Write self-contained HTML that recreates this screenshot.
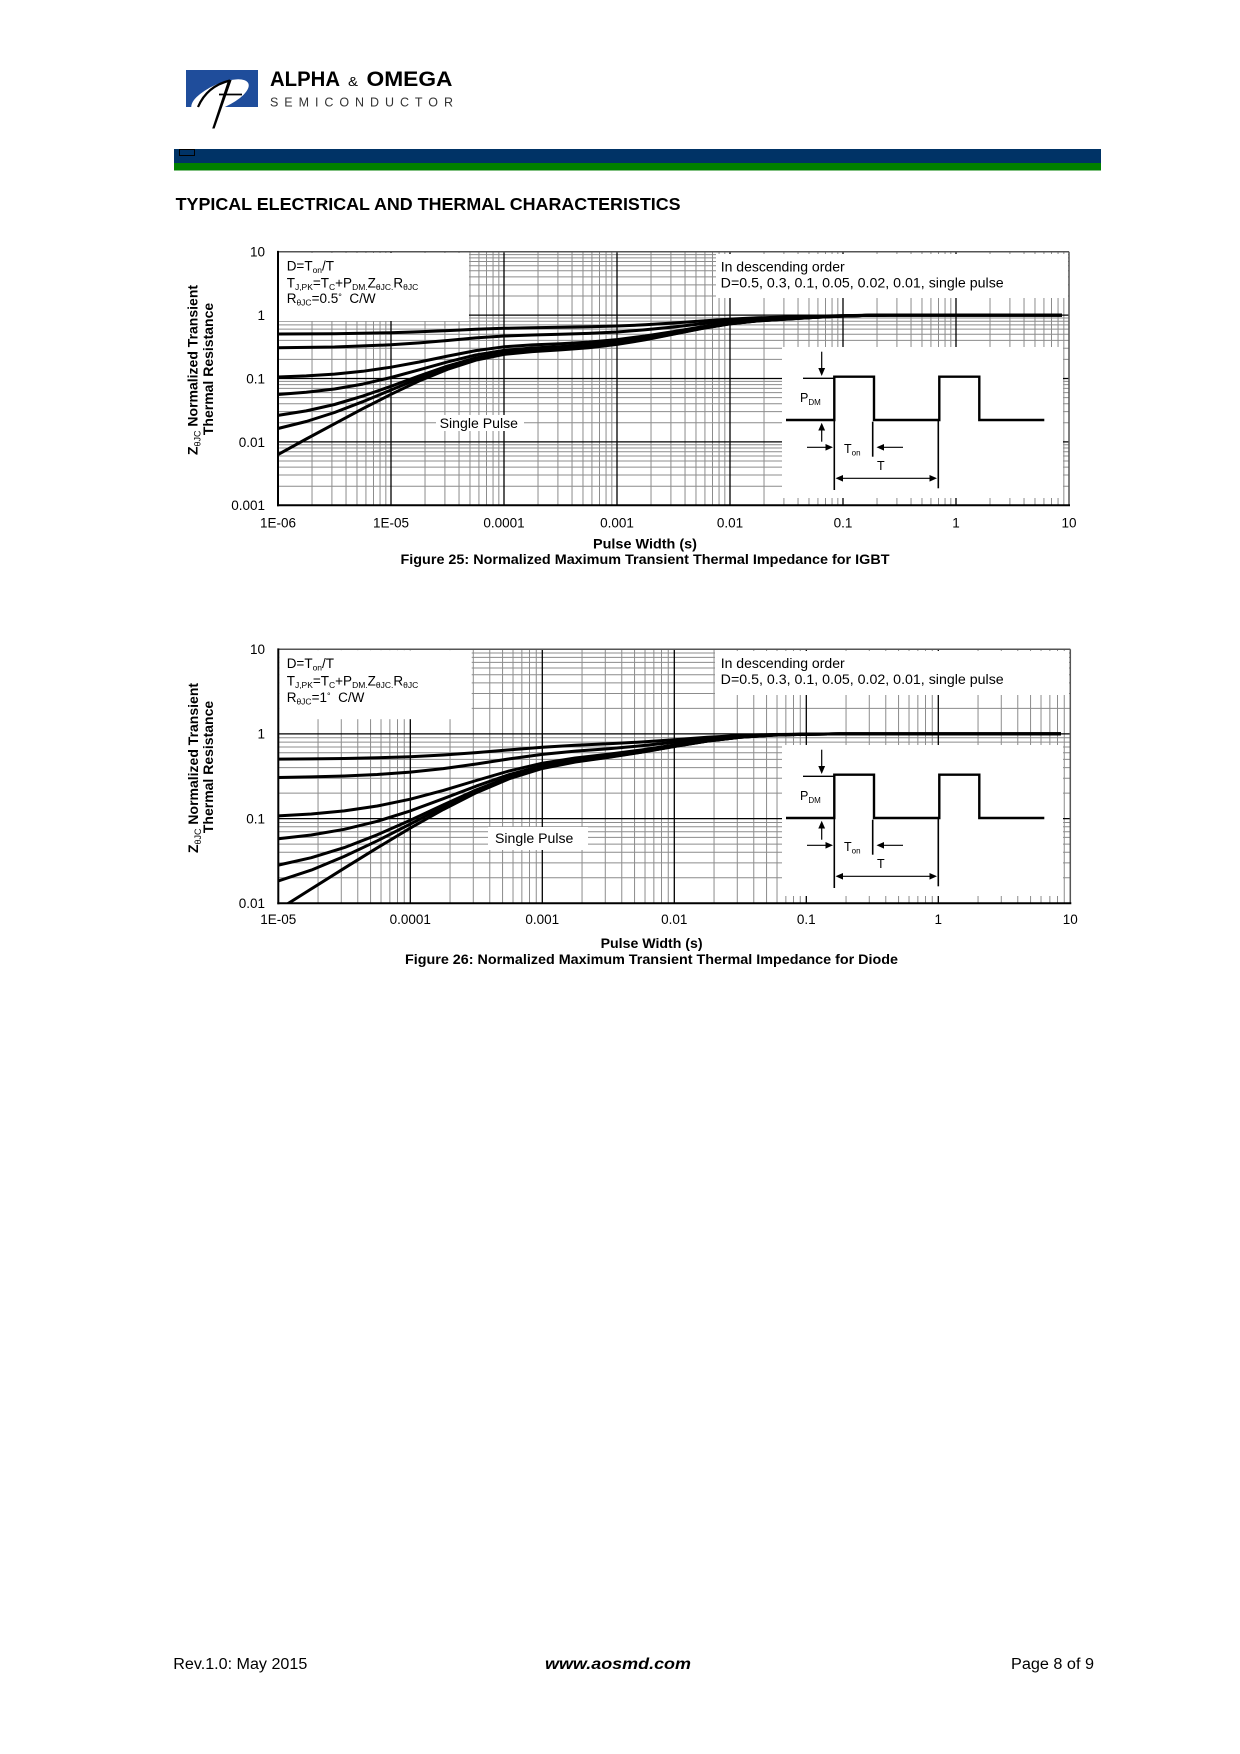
<!DOCTYPE html>
<html>
<head>
<meta charset="utf-8">
<style>
html,body{margin:0;padding:0;background:#fff;}
svg{display:block;}
text{font-family:"Liberation Sans",Arial,sans-serif;fill:#000;}
</style>
</head>
<body>
<svg xmlns="http://www.w3.org/2000/svg" width="1240" height="1754" viewBox="0 0 1240 1754">
<rect x="0" y="0" width="1240" height="1754" fill="#fff"/>
<defs>
  <clipPath id="logoclip"><rect x="186" y="70" width="72" height="37"/></clipPath>
  <clipPath id="clip26"><rect x="278.3" y="649.2" width="792" height="254.1"/></clipPath>
  <g id="v25" stroke="#8c8c8c" stroke-width="1">
    <line x1="34.02" y1="252" x2="34.02" y2="505"/>
    <line x1="53.91" y1="252" x2="53.91" y2="505"/>
    <line x1="68.03" y1="252" x2="68.03" y2="505"/>
    <line x1="78.98" y1="252" x2="78.98" y2="505"/>
    <line x1="87.93" y1="252" x2="87.93" y2="505"/>
    <line x1="95.50" y1="252" x2="95.50" y2="505"/>
    <line x1="102.05" y1="252" x2="102.05" y2="505"/>
    <line x1="107.83" y1="252" x2="107.83" y2="505"/>
  </g>
  <g id="h25" stroke="#8c8c8c" stroke-width="1">
    <line x1="278" y1="-19.09" x2="1069" y2="-19.09"/>
    <line x1="278" y1="-30.25" x2="1069" y2="-30.25"/>
    <line x1="278" y1="-38.17" x2="1069" y2="-38.17"/>
    <line x1="278" y1="-44.31" x2="1069" y2="-44.31"/>
    <line x1="278" y1="-49.33" x2="1069" y2="-49.33"/>
    <line x1="278" y1="-53.58" x2="1069" y2="-53.58"/>
    <line x1="278" y1="-57.26" x2="1069" y2="-57.26"/>
    <line x1="278" y1="-60.50" x2="1069" y2="-60.50"/>
  </g>
  <g id="v26" stroke="#8c8c8c" stroke-width="1">
    <line x1="39.74" y1="649" x2="39.74" y2="903"/>
    <line x1="62.98" y1="649" x2="62.98" y2="903"/>
    <line x1="79.47" y1="649" x2="79.47" y2="903"/>
    <line x1="92.26" y1="649" x2="92.26" y2="903"/>
    <line x1="102.72" y1="649" x2="102.72" y2="903"/>
    <line x1="111.55" y1="649" x2="111.55" y2="903"/>
    <line x1="119.21" y1="649" x2="119.21" y2="903"/>
    <line x1="125.96" y1="649" x2="125.96" y2="903"/>
  </g>
  <g id="h26" stroke="#8c8c8c" stroke-width="1">
    <line x1="278.3" y1="-25.50" x2="1070.3" y2="-25.50"/>
    <line x1="278.3" y1="-40.41" x2="1070.3" y2="-40.41"/>
    <line x1="278.3" y1="-50.99" x2="1070.3" y2="-50.99"/>
    <line x1="278.3" y1="-59.20" x2="1070.3" y2="-59.20"/>
    <line x1="278.3" y1="-65.91" x2="1070.3" y2="-65.91"/>
    <line x1="278.3" y1="-71.58" x2="1070.3" y2="-71.58"/>
    <line x1="278.3" y1="-76.49" x2="1070.3" y2="-76.49"/>
    <line x1="278.3" y1="-80.84" x2="1070.3" y2="-80.84"/>
  </g>
  <g id="wave">
    <rect x="782" y="347" width="281" height="151" fill="#fff"/>
    <g stroke="#000" fill="none">
      <line x1="821.7" y1="351.7" x2="821.7" y2="369" stroke-width="1.2"/>
      <line x1="803" y1="378.3" x2="834" y2="378.3" stroke-width="1.3"/>
      <path d="M786,420 H834.3 V376.7 H874 V420 H939.3 V376.7 H979.3 V420 H1044.3" stroke-width="2.4"/>
      <line x1="821.7" y1="429" x2="821.7" y2="441.7" stroke-width="1.2"/>
      <line x1="807" y1="447.3" x2="827" y2="447.3" stroke-width="1.2"/>
      <line x1="882" y1="447.3" x2="903" y2="447.3" stroke-width="1.2"/>
      <line x1="834.3" y1="420" x2="834.3" y2="490" stroke-width="1.6"/>
      <line x1="872.7" y1="421.7" x2="872.7" y2="456.7" stroke-width="1.6"/>
      <line x1="841" y1="478.3" x2="932" y2="478.3" stroke-width="1.2"/>
      <line x1="938.3" y1="420" x2="938.3" y2="488.3" stroke-width="1.6"/>
    </g>
    <g fill="#000">
      <polygon points="821.7,376 818.3,368 825.1,368"/>
      <polygon points="821.7,422.7 818.3,430.5 825.1,430.5"/>
      <polygon points="833,447.3 825.5,444 825.5,450.6"/>
      <polygon points="876.5,447.3 884,444 884,450.6"/>
      <polygon points="835.5,478.3 843,475 843,481.6"/>
      <polygon points="937,478.3 929.5,475 929.5,481.6"/>
    </g>
    <text x="800" y="402" font-size="12.5">P<tspan font-size="8" dy="3">DM</tspan></text>
    <text x="844" y="453" font-size="12.5">T<tspan font-size="8" dy="2.5">on</tspan></text>
    <text x="877" y="470" font-size="12.5">T</text>
  </g>
</defs>

<!-- ===== HEADER ===== -->
<g clip-path="url(#logoclip)">
  <rect x="186" y="70" width="72" height="37" fill="#1f4d9b"/>
  <ellipse cx="220" cy="96" rx="31" ry="12" transform="rotate(-24 220 96)" fill="#fff"/>
</g>
<path d="M198,107 Q207,86 230,80.5" stroke="#000" stroke-width="2.2" fill="none"/>
<polygon points="228.2,80 231.6,80 214.6,128.5 212.2,128.5" fill="#000"/>
<line x1="219" y1="94.5" x2="242" y2="94.5" stroke="#000" stroke-width="1.8"/>
<text x="270" y="86" font-size="21" font-weight="bold" textLength="70" lengthAdjust="spacingAndGlyphs">ALPHA</text>
<text x="348" y="86" font-size="13" textLength="10" lengthAdjust="spacingAndGlyphs">&amp;</text>
<text x="366.5" y="86" font-size="21" font-weight="bold" textLength="86" lengthAdjust="spacingAndGlyphs">OMEGA</text>
<text x="270" y="106.7" font-size="12.5" style="fill:#333" textLength="183" lengthAdjust="spacing">SEMICONDUCTOR</text>

<rect x="174" y="149" width="927" height="14" fill="#003366"/>
<rect x="174" y="163" width="927" height="7.5" fill="#008000"/>
<rect x="179.5" y="149.5" width="15" height="6" fill="none" stroke="#000" stroke-width="1"/>

<text x="175.6" y="210" font-size="17.5" font-weight="bold" textLength="505" lengthAdjust="spacingAndGlyphs">TYPICAL ELECTRICAL AND THERMAL CHARACTERISTICS</text>

<!-- ===== FIGURE 25 ===== -->
<g>
  <use href="#v25" x="278"/>
  <use href="#v25" x="391"/>
  <use href="#v25" x="504"/>
  <use href="#v25" x="617"/>
  <use href="#v25" x="730"/>
  <use href="#v25" x="843"/>
  <use href="#v25" x="956"/>
  <use href="#h25" y="505.3"/>
  <use href="#h25" y="441.9"/>
  <use href="#h25" y="378.5"/>
  <use href="#h25" y="315.1"/>
  <g stroke="#000" stroke-width="1.3">
    <line x1="391" y1="252" x2="391" y2="505"/>
    <line x1="504" y1="252" x2="504" y2="505"/>
    <line x1="617" y1="252" x2="617" y2="505"/>
    <line x1="730" y1="252" x2="730" y2="505"/>
    <line x1="843" y1="252" x2="843" y2="505"/>
    <line x1="956" y1="252" x2="956" y2="505"/>
    <line x1="278" y1="441.9" x2="1069" y2="441.9"/>
    <line x1="278" y1="378.5" x2="1069" y2="378.5"/>
    <line x1="278" y1="315.1" x2="1069" y2="315.1"/>
  </g>
  <rect x="279" y="253" width="190" height="68" fill="#fff"/>
  <rect x="716" y="254" width="352" height="44" fill="#fff"/>
  <rect x="436" y="415" width="88" height="16" fill="#fff"/>
  <use href="#wave"/>
  <line x1="278" y1="251.7" x2="1069" y2="251.7" stroke="#555" stroke-width="1.5"/>
  <line x1="1069" y1="251.7" x2="1069" y2="505.3" stroke="#555" stroke-width="1.5"/>
  <line x1="278" y1="250.9" x2="278" y2="506.3" stroke="#000" stroke-width="2"/>
  <line x1="277" y1="505.3" x2="1070" y2="505.3" stroke="#000" stroke-width="2"/>
  <g fill="none" stroke="#000" stroke-width="3" stroke-linejoin="round">
    <polyline points="278,454.6 306.25,439.0 334.5,423.8 362.75,408.7 391,394.3 419.25,380.9 447.5,369.3 475.75,360.2 504,354.4 532.25,351.6 560.5,349.9 588.75,347.7 617,344.4 645.25,339.8 673.5,334.2 701.75,328.5 730,323.9 758.25,320.9 786.5,319.1 814.75,317.4 843,316.1 871.25,315.3 899.5,315.1 1062,315.1"/>
    <polyline points="278,428.5 306.25,421.5 334.5,412.5 362.75,401.7 391,390.0 419.25,378.3 447.5,367.6 475.75,359.0 504,353.5 532.25,350.9 560.5,349.3 588.75,347.1 617,343.8 645.25,339.4 673.5,333.9 701.75,328.4 730,323.8 758.25,320.8 786.5,319.0 814.75,317.4 843,316.0 871.25,315.3 899.5,315.1 1062,315.1"/>
    <polyline points="278,415.4 306.25,410.9 334.5,404.5 362.75,396.1 391,386.3 419.25,375.9 447.5,366.1 475.75,358.0 504,352.7 532.25,350.1 560.5,348.6 588.75,346.5 617,343.3 645.25,339.0 673.5,333.7 701.75,328.2 730,323.7 758.25,320.8 786.5,319.0 814.75,317.4 843,316.0 871.25,315.3 899.5,315.1 1062,315.1"/>
    <polyline points="278,394.5 306.25,392.3 334.5,389.0 362.75,384.1 391,377.5 419.25,369.8 447.5,361.9 475.75,355.0 504,350.4 532.25,348.0 560.5,346.6 588.75,344.7 617,341.9 645.25,337.8 673.5,332.9 701.75,327.7 730,323.3 758.25,320.6 786.5,318.8 814.75,317.3 843,316.0 871.25,315.3 899.5,315.1 1062,315.1"/>
    <polyline points="278,377.0 306.25,375.9 334.5,374.1 362.75,371.3 391,367.2 419.25,362.0 447.5,356.1 475.75,350.6 504,346.8 532.25,344.9 560.5,343.7 588.75,342.1 617,339.6 645.25,336.0 673.5,331.6 701.75,326.8 730,322.8 758.25,320.2 786.5,318.6 814.75,317.2 843,316.0 871.25,315.3 899.5,315.1 1062,315.1"/>
    <polyline points="278,347.8 334.5,347.0 391,344.8 419.25,342.9 447.5,340.5 475.75,337.9 504,336.0 532.25,335.0 560.5,334.3 588.75,333.4 617,332.0 645.25,329.8 673.5,327.0 701.75,323.8 730,320.9 758.25,319.0 786.5,317.8 814.75,316.7 843,315.8 871.25,315.2 899.5,315.1 1062,315.1"/>
    <polyline points="278,334.0 334.5,333.7 391,332.7 419.25,331.8 447.5,330.6 475.75,329.3 504,328.3 532.25,327.7 560.5,327.3 588.75,326.8 617,326.0 645.25,324.8 673.5,323.0 701.75,321.0 730,319.1 758.25,317.8 786.5,317.0 814.75,316.2 843,315.6 871.25,315.2 899.5,315.1 1062,315.1"/>
  </g>
  <text x="286.7" y="270.5" font-size="13.5">D=T<tspan font-size="8.5" dy="2.5">on</tspan><tspan dy="-2.5">/T</tspan></text>
  <text x="286.7" y="287.5" font-size="13.5">T<tspan font-size="8.5" dy="2.5">J,PK</tspan><tspan dy="-2.5">=T</tspan><tspan font-size="8.5" dy="2.5">C</tspan><tspan dy="-2.5">+P</tspan><tspan font-size="8.5" dy="2.5">DM.</tspan><tspan dy="-2.5">Z</tspan><tspan font-size="8.5" dy="2.5">θJC.</tspan><tspan dy="-2.5">R</tspan><tspan font-size="8.5" dy="2.5">θJC</tspan></text>
  <text x="286.7" y="303" font-size="13.5" xml:space="preserve">R<tspan font-size="8.5" dy="2.5">θJC</tspan><tspan dy="-2.5">=0.5</tspan><tspan font-size="9" dy="-3">°</tspan><tspan dy="3">  C/W</tspan></text>
  <text x="720.7" y="271.5" font-size="14" textLength="124" lengthAdjust="spacingAndGlyphs">In descending order</text>
  <text x="720.7" y="287.5" font-size="14" textLength="283" lengthAdjust="spacingAndGlyphs">D=0.5, 0.3, 0.1, 0.05, 0.02, 0.01, single pulse</text>
  <text x="439.6" y="428" font-size="14" textLength="78.4" lengthAdjust="spacingAndGlyphs">Single Pulse</text>
  <g font-size="13.5" text-anchor="end">
    <text x="265" y="256.5">10</text>
    <text x="265" y="320">1</text>
    <text x="265" y="383.5">0.1</text>
    <text x="265" y="447">0.01</text>
    <text x="265" y="510">0.001</text>
  </g>
  <g font-size="13.5" text-anchor="middle">
    <text x="278" y="527.3">1E-06</text>
    <text x="391" y="527.3">1E-05</text>
    <text x="504" y="527.3">0.0001</text>
    <text x="617" y="527.3">0.001</text>
    <text x="730" y="527.3">0.01</text>
    <text x="843" y="527.3">0.1</text>
    <text x="956" y="527.3">1</text>
    <text x="1069" y="527.3">10</text>
  </g>
  <text x="645" y="548.5" font-size="14" font-weight="bold" text-anchor="middle" textLength="104" lengthAdjust="spacingAndGlyphs">Pulse Width (s)</text>
  <text x="645" y="564" font-size="14" font-weight="bold" text-anchor="middle" textLength="489" lengthAdjust="spacingAndGlyphs">Figure 25: Normalized Maximum Transient Thermal Impedance for IGBT</text>
  <text transform="translate(197.5,370) rotate(-90)" font-size="14" font-weight="bold" text-anchor="middle">Z<tspan font-size="9" font-weight="normal" dy="3">θJC</tspan><tspan dy="-3"> Normalized Transient</tspan></text>
  <text transform="translate(213,369) rotate(-90)" font-size="14" font-weight="bold" text-anchor="middle">Thermal Resistance</text>
</g>

<!-- ===== FIGURE 26 ===== -->
<g>
  <use href="#v26" x="278.3"/>
  <use href="#v26" x="410.3"/>
  <use href="#v26" x="542.3"/>
  <use href="#v26" x="674.3"/>
  <use href="#v26" x="806.3"/>
  <use href="#v26" x="938.3"/>
  <use href="#h26" y="903.3"/>
  <use href="#h26" y="818.6"/>
  <use href="#h26" y="733.9"/>
  <g stroke="#000" stroke-width="1.3">
    <line x1="410.3" y1="649" x2="410.3" y2="903"/>
    <line x1="542.3" y1="649" x2="542.3" y2="903"/>
    <line x1="674.3" y1="649" x2="674.3" y2="903"/>
    <line x1="806.3" y1="649" x2="806.3" y2="903"/>
    <line x1="938.3" y1="649" x2="938.3" y2="903"/>
    <line x1="278.3" y1="818.6" x2="1070.3" y2="818.6"/>
    <line x1="278.3" y1="733.9" x2="1070.3" y2="733.9"/>
  </g>
  <rect x="279.3" y="650.2" width="192.4" height="69" fill="#fff"/>
  <rect x="715" y="651" width="354" height="44" fill="#fff"/>
  <rect x="488" y="827" width="100" height="23" fill="#fff"/>
  <use href="#wave" y="398"/>
  <line x1="278.3" y1="649.2" x2="1070.3" y2="649.2" stroke="#555" stroke-width="1.5"/>
  <line x1="1070.3" y1="649.2" x2="1070.3" y2="903.3" stroke="#555" stroke-width="1.5"/>
  <line x1="278.3" y1="648.4" x2="278.3" y2="904.3" stroke="#000" stroke-width="2"/>
  <line x1="277.3" y1="903.3" x2="1071.3" y2="903.3" stroke="#000" stroke-width="2"/>
  <g fill="none" stroke="#000" stroke-width="3" stroke-linejoin="round" clip-path="url(#clip26)">
    <polyline points="278.3,909.7 311.3,888.9 344.3,868.2 377.3,847.8 410.3,828.1 443.3,809.5 476.3,792.7 509.3,778.7 542.3,768.5 575.3,762.0 608.3,757.4 641.3,752.3 674.3,746.5 707.3,741.1 740.3,737.2 773.3,735.1 806.3,734.2 839.3,733.9 1061,733.9"/>
    <polyline points="278.3,881.0 311.3,870.1 344.3,856.4 377.3,840.8 410.3,824.0 443.3,807.1 476.3,791.3 509.3,777.9 542.3,767.9 575.3,761.6 608.3,757.1 641.3,752.1 674.3,746.4 707.3,741.0 740.3,737.2 773.3,735.1 806.3,734.2 839.3,733.9 1061,733.9"/>
    <polyline points="278.3,865.1 311.3,857.7 344.3,847.6 377.3,834.8 410.3,820.2 443.3,804.8 476.3,789.9 509.3,777.0 542.3,767.4 575.3,761.2 608.3,756.8 641.3,751.8 674.3,746.2 707.3,741.0 740.3,737.2 773.3,735.1 806.3,734.2 839.3,733.9 1061,733.9"/>
    <polyline points="278.3,838.7 311.3,835.0 344.3,829.3 377.3,821.3 410.3,810.9 443.3,798.7 476.3,786.1 509.3,774.6 542.3,765.7 575.3,760.0 608.3,755.8 641.3,751.1 674.3,745.8 707.3,740.7 740.3,737.1 773.3,735.0 806.3,734.2 839.3,733.9 1061,733.9"/>
    <polyline points="278.3,815.9 311.3,814.0 344.3,810.9 377.3,806.0 410.3,799.2 443.3,790.4 476.3,780.5 509.3,770.9 542.3,763.2 575.3,758.0 608.3,754.3 641.3,750.0 674.3,745.0 707.3,740.3 740.3,736.9 773.3,735.0 806.3,734.1 839.3,733.9 1061,733.9"/>
    <polyline points="278.3,777.5 311.3,776.9 344.3,776.0 377.3,774.5 410.3,772.1 443.3,768.6 476.3,764.0 509.3,758.9 542.3,754.4 575.3,751.1 608.3,748.7 641.3,745.8 674.3,742.3 707.3,738.8 740.3,736.2 773.3,734.7 806.3,734.1 839.3,733.9 1061,733.9"/>
    <polyline points="278.3,759.1 311.3,758.9 344.3,758.5 377.3,757.8 410.3,756.7 443.3,755.0 476.3,752.6 509.3,749.9 542.3,747.3 575.3,745.3 608.3,743.8 641.3,742.0 674.3,739.7 707.3,737.3 740.3,735.5 773.3,734.5 806.3,734.2 839.3,733.9 1061,733.9"/>
  </g>
  <text x="286.7" y="668" font-size="13.5">D=T<tspan font-size="8.5" dy="2.5">on</tspan><tspan dy="-2.5">/T</tspan></text>
  <text x="286.7" y="685.5" font-size="13.5">T<tspan font-size="8.5" dy="2.5">J,PK</tspan><tspan dy="-2.5">=T</tspan><tspan font-size="8.5" dy="2.5">C</tspan><tspan dy="-2.5">+P</tspan><tspan font-size="8.5" dy="2.5">DM.</tspan><tspan dy="-2.5">Z</tspan><tspan font-size="8.5" dy="2.5">θJC.</tspan><tspan dy="-2.5">R</tspan><tspan font-size="8.5" dy="2.5">θJC</tspan></text>
  <text x="286.7" y="702" font-size="13.5" xml:space="preserve">R<tspan font-size="8.5" dy="2.5">θJC</tspan><tspan dy="-2.5">=1</tspan><tspan font-size="9" dy="-3">°</tspan><tspan dy="3">  C/W</tspan></text>
  <text x="720.7" y="668" font-size="14" textLength="124" lengthAdjust="spacingAndGlyphs">In descending order</text>
  <text x="720.7" y="684" font-size="14" textLength="283" lengthAdjust="spacingAndGlyphs">D=0.5, 0.3, 0.1, 0.05, 0.02, 0.01, single pulse</text>
  <text x="495" y="843" font-size="14" textLength="78.4" lengthAdjust="spacingAndGlyphs">Single Pulse</text>
  <g font-size="13.5" text-anchor="end">
    <text x="265" y="654">10</text>
    <text x="265" y="738.7">1</text>
    <text x="265" y="823.4">0.1</text>
    <text x="265" y="908">0.01</text>
  </g>
  <g font-size="13.5" text-anchor="middle">
    <text x="278.3" y="924">1E-05</text>
    <text x="410.3" y="924">0.0001</text>
    <text x="542.3" y="924">0.001</text>
    <text x="674.3" y="924">0.01</text>
    <text x="806.3" y="924">0.1</text>
    <text x="938.3" y="924">1</text>
    <text x="1070.3" y="924">10</text>
  </g>
  <text x="651.6" y="948" font-size="14" font-weight="bold" text-anchor="middle" textLength="102" lengthAdjust="spacingAndGlyphs">Pulse Width (s)</text>
  <text x="651.5" y="964" font-size="14" font-weight="bold" text-anchor="middle" textLength="493" lengthAdjust="spacingAndGlyphs">Figure 26: Normalized Maximum Transient Thermal Impedance for Diode</text>
  <text transform="translate(198,768) rotate(-90)" font-size="14" font-weight="bold" text-anchor="middle">Z<tspan font-size="9" font-weight="normal" dy="3">θJC</tspan><tspan dy="-3"> Normalized Transient</tspan></text>
  <text transform="translate(213,767) rotate(-90)" font-size="14" font-weight="bold" text-anchor="middle">Thermal Resistance</text>
</g>

<!-- ===== FOOTER ===== -->
<text x="173.3" y="1669" font-size="15.5" textLength="134" lengthAdjust="spacingAndGlyphs">Rev.1.0: May 2015</text>
<text x="545" y="1669" font-size="16" font-weight="bold" font-style="italic" textLength="146" lengthAdjust="spacingAndGlyphs">www.aosmd.com</text>
<text x="1011" y="1669" font-size="15.5" textLength="83" lengthAdjust="spacingAndGlyphs">Page 8 of 9</text>
</svg>
</body>
</html>
